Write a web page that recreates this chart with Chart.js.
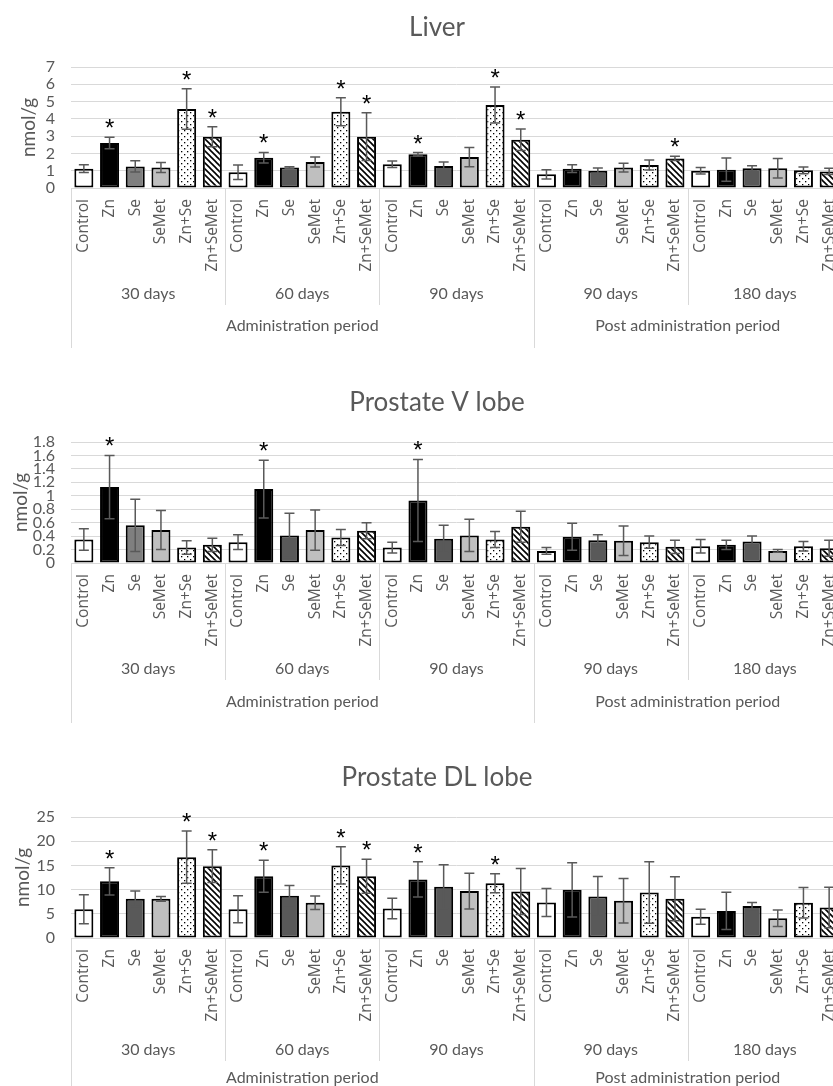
<!DOCTYPE html>
<html>
<head>
<meta charset="utf-8">
<script src="https://cdn.jsdelivr.net/npm/chart.js@4.4.0/dist/chart.umd.min.js"></script>
<style>
  body { margin: 0; background: #fff; overflow: hidden; width: 833px; height: 1086px; }
  canvas { display: block; }
</style>
</head>
<body>
<canvas id="liver" width="874" height="375"></canvas>
<canvas id="vlobe" width="874" height="375"></canvas>
<canvas id="dllobe" width="874" height="375"></canvas>
<script>
// categories
const treatments = ['Control', 'Zn', 'Se', 'SeMet', 'Zn+Se', 'Zn+SeMet'];
const periods = ['30 days', '60 days', '90 days', '90 days', '180 days'];
const phases = ['Administration period', 'Post administration period'];
const phaseSpans = [3, 2];

// Liver
const liverMean = [1.12, 2.6, 1.25, 1.19, 4.57, 2.97,  0.91, 1.75, 1.18, 1.5, 4.41, 2.97,  1.37, 1.95, 1.27, 1.79, 4.8, 2.79,  0.79, 1.12, 1.0, 1.18, 1.33, 1.71,  1.0, 1.06, 1.14, 1.14, 1.02, 0.96];
const liverSD   = [0.23, 0.33, 0.33, 0.29, 1.17, 0.58,  0.42, 0.31, 0.05, 0.29, 0.81, 1.38,  0.19, 0.1, 0.23, 0.56, 1.04, 0.62,  0.27, 0.23, 0.16, 0.25, 0.29, 0.12,  0.19, 0.67, 0.15, 0.56, 0.19, 0.18];
const liverSig  = [0,1,0,0,1,1, 0,1,0,0,1,1, 0,1,0,0,1,1, 0,0,0,0,0,1, 0,0,0,0,0,0];
const liverTicks = [0, 1, 2, 3, 4, 5, 6, 7];

// Prostate V lobe
const vMean = [0.35, 1.13, 0.56, 0.49, 0.23, 0.27,  0.31, 1.1, 0.41, 0.49, 0.38, 0.48,  0.23, 0.93, 0.36, 0.41, 0.35, 0.54,  0.18, 0.39, 0.34, 0.33, 0.31, 0.24,  0.25, 0.27, 0.32, 0.18, 0.25, 0.22];
const vSD   = [0.16, 0.47, 0.39, 0.29, 0.1, 0.1,  0.11, 0.43, 0.33, 0.3, 0.12, 0.12,  0.08, 0.61, 0.2, 0.24, 0.12, 0.23,  0.05, 0.2, 0.08, 0.22, 0.09, 0.1,  0.1, 0.07, 0.08, 0.02, 0.07, 0.12];
const vSig  = [0,1,0,0,0,0, 0,1,0,0,0,0, 0,1,0,0,0,0, 0,0,0,0,0,0, 0,0,0,0,0,0];
const vTicks = [0, 0.2, 0.4, 0.6, 0.8, 1, 1.2, 1.4, 1.6, 1.8];

// Prostate DL lobe
const dlMean = [5.95, 11.7, 8.1, 8.1, 16.7, 14.85,  5.95, 12.75, 8.75, 7.3, 15.0, 12.75,  6.1, 12.1, 10.6, 9.7, 11.3, 9.6,  7.35, 9.95, 8.6, 7.7, 9.4, 8.1,  4.4, 5.6, 6.6, 4.06, 7.3, 6.3];
const dlSD   = [3.0, 2.8, 1.6, 0.5, 5.4, 3.4,  2.8, 3.3, 2.1, 1.4, 3.85, 3.5,  2.1, 3.65, 4.55, 3.7, 1.95, 4.75,  2.9, 5.6, 4.1, 4.6, 6.35, 4.55,  1.55, 3.85, 0.75, 1.7, 3.15, 4.2];
const dlSig  = [0,1,0,0,1,1, 0,1,0,0,1,1, 0,1,0,0,1,0, 0,0,0,0,0,0, 0,0,0,0,0,0];
const dlTicks = [0, 5, 10, 15, 20, 25];

const FONT = 'Lato, "Open Sans", sans-serif';
const LABEL_FONT = '"Open Sans", Lato, sans-serif';
const GREY = '#595959';

function makePattern(kind) {
  const c = document.createElement('canvas');
  c.width = 6; c.height = 6;
  const g = c.getContext('2d');
  g.fillStyle = '#fff';
  g.fillRect(0, 0, 6, 6);
  g.fillStyle = '#000';
  g.strokeStyle = '#000';
  if (kind === 'dots') {
    g.fillRect(1, 1, 1.3, 1.3);
    g.fillRect(4, 4, 1.3, 1.3);
  } else {
    g.lineWidth = 1.6;
    for (const k of [-6, 0, 6]) {
      g.beginPath();
      g.moveTo(-1, -1 + k);
      g.lineTo(7, 7 + k);
      g.stroke();
    }
  }
  return g.createPattern(c, 'repeat');
}

const dots = makePattern('dots');
const stripes = makePattern('stripes');

const labels = periods.flatMap(() => treatments);

function fills(lightFirstSe) {
  const base = ['#ffffff', '#000000', '#595959', '#bfbfbf', dots, stripes];
  return labels.map((_, i) => {
    if (lightFirstSe && i === 2) return '#7f7f7f';
    return base[i % 6];
  });
}

function makeChart(id, title, mean, sd, sig, ticks, opt) {
  const extras = {
    id: 'extras',
    afterDatasetsDraw(chart) {
      const ctx = chart.ctx;
      const y = chart.scales.y;
      const bars = chart.getDatasetMeta(0).data;
      ctx.save();
      ctx.strokeStyle = GREY;
      ctx.lineWidth = 1.5;
      bars.forEach((bar, i) => {
        const hi = y.getPixelForValue(mean[i] + sd[i]);
        const lo = y.getPixelForValue(Math.max(mean[i] - sd[i], 0));
        ctx.beginPath();
        ctx.moveTo(bar.x, hi); ctx.lineTo(bar.x, lo);
        ctx.moveTo(bar.x - 5, hi); ctx.lineTo(bar.x + 5, hi);
        ctx.moveTo(bar.x - 5, lo); ctx.lineTo(bar.x + 5, lo);
        ctx.stroke();
        if (sig[i]) {
          ctx.fillStyle = '#000';
          ctx.font = '24px "Liberation Sans", sans-serif';
          ctx.textAlign = 'center';
          ctx.textBaseline = 'alphabetic';
          ctx.fillText('*', bar.x, hi - 1);
        }
      });
      ctx.restore();
    },
    afterDraw(chart) {
      const ctx = chart.ctx;
      const area = chart.chartArea;
      const step = (area.right - area.left) / labels.length;
      const b = area.bottom;
      ctx.save();
      // title, centred on the full chart width
      ctx.fillStyle = GREY;
      ctx.font = '26px ' + FONT;
      ctx.textAlign = 'center';
      ctx.textBaseline = 'middle';
      ctx.fillText(title, chart.width / 2, 28);
      // group dividers
      ctx.strokeStyle = '#d9d9d9';
      ctx.lineWidth = 1;
      const outer = [0, 18, 30];
      for (let k = 0; k <= 30; k += 6) {
        const x = Math.round(area.left + k * step) + 0.5;
        const end = outer.includes(k) ? b + 160 : b + opt.rowY + 11;
        ctx.beginPath();
        ctx.moveTo(x, b);
        ctx.lineTo(x, end);
        ctx.stroke();
      }
      ctx.font = '16px ' + FONT;
      periods.forEach((p, g) => {
        ctx.fillText(p, area.left + (g * 6 + 3) * step, b + opt.rowY);
      });
      let start = 0;
      phases.forEach((p, j) => {
        const n = phaseSpans[j] * 6;
        ctx.fillText(p, area.left + (start + n / 2) * step, b + opt.phaseY);
        start += n;
      });
      ctx.restore();
    }
  };

  return new Chart(document.getElementById(id).getContext('2d'), {
    type: 'bar',
    data: {
      labels: labels,
      datasets: [{
        data: mean,
        backgroundColor: fills(opt.lightFirstSe),
        borderColor: '#000',
        borderWidth: 2,
        borderSkipped: false,
        barPercentage: 0.74,
        categoryPercentage: 1
      }]
    },
    options: {
      responsive: false,
      animation: false,
      layout: { padding: { left: 0, right: 32, top: 67, bottom: 0 } },
      plugins: {
        legend: { display: false },
        tooltip: { enabled: false },
        title: { display: false }
      },
      scales: {
        x: {
          grid: { display: false, drawTicks: false },
          border: { color: '#d9d9d9' },
          ticks: {
            minRotation: 90, maxRotation: 90, autoSkip: false,
            color: GREY, font: { family: LABEL_FONT, size: 15.5 }, padding: 11
          },
          afterFit(s) { s.height = 187; }
        },
        y: {
          min: 0,
          max: ticks[ticks.length - 1],
          afterBuildTicks(s) { s.ticks = ticks.map(v => ({ value: v })); },
          grid: { color: '#d9d9d9', drawTicks: false },
          border: { display: false },
          ticks: {
            autoSkip: false, color: GREY, font: { family: FONT, size: 16 },
            padding: 16, callback: v => String(v)
          },
          title: {
            display: true, text: 'nmol/g', color: GREY,
            font: { family: FONT, size: 19 }, padding: { top: opt.titleX - 11, bottom: 0 }
          },
          afterFit(s) { s.width = 71; }
        }
      }
    },
    plugins: [extras]
  });
}

makeChart('liver', 'Liver', liverMean, liverSD, liverSig, liverTicks,
  { lightFirstSe: true, titleX: 28, rowY: 106, phaseY: 138 });
makeChart('vlobe', 'Prostate V lobe', vMean, vSD, vSig, vTicks,
  { lightFirstSe: true, titleX: 20, rowY: 106, phaseY: 139 });
makeChart('dllobe', 'Prostate DL lobe', dlMean, dlSD, dlSig, dlTicks,
  { lightFirstSe: false, titleX: 22, rowY: 112, phaseY: 140 });
</script>
</body>
</html>
